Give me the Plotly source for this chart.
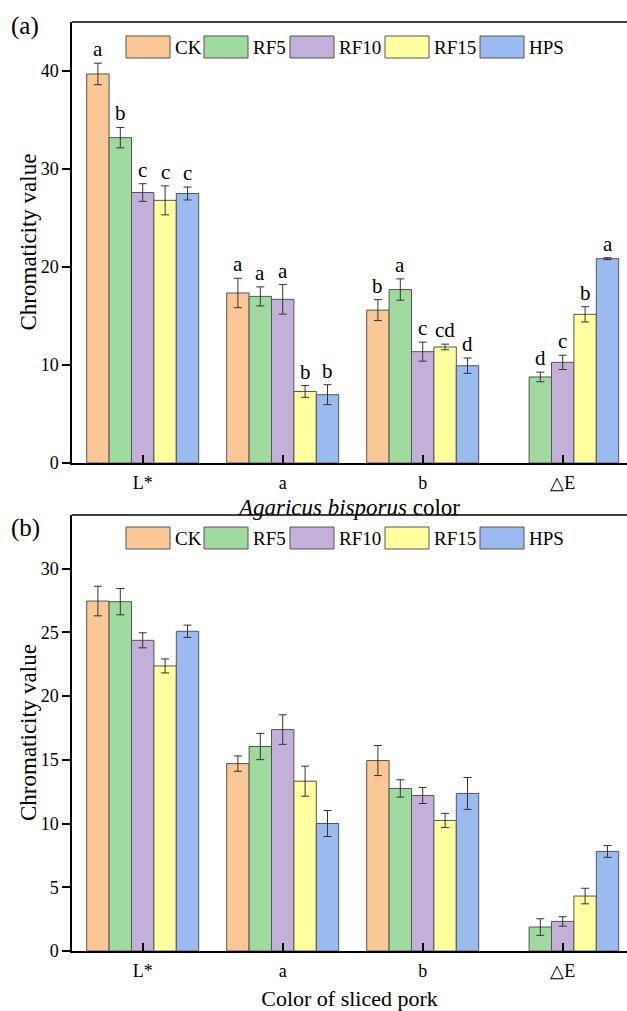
import plotly.graph_objects as go

# ---------------- data ----------------
categories = ["L*", "a", "b", "△E"]
series = ["CK", "RF5", "RF10", "RF15", "HPS"]

# Panel (a): Agaricus bisporus colour
a_CK = [39.7, 17.35, 15.6, None]
a_RF5 = [33.2, 17.0, 17.7, 8.78]
a_RF10 = [27.6, 16.7, 11.36, 10.27]
a_RF15 = [26.8, 7.3, 11.84, 15.17]
a_HPS = [27.5, 6.97, 9.93, 20.85]

a_CK_err = [1.1, 1.5, 1.07, None]
a_RF5_err = [1.04, 0.97, 1.09, 0.49]
a_RF10_err = [0.9, 1.51, 0.97, 0.73]
a_RF15_err = [1.48, 0.6, 0.29, 0.78]
a_HPS_err = [0.66, 1.02, 0.78, 0.1]

a_CK_sig = ["a", "a", "b", ""]
a_RF5_sig = ["b", "a", "a", "d"]
a_RF10_sig = ["c", "a", "c", "c"]
a_RF15_sig = ["c", "b", "cd", "b"]
a_HPS_sig = ["c", "b", "d", "a"]

# Panel (b): sliced pork colour
b_CK = [27.45, 14.7, 14.94, None]
b_RF5 = [27.4, 16.04, 12.75, 1.88]
b_RF10 = [24.37, 17.37, 12.2, 2.32]
b_RF15 = [22.36, 13.32, 10.24, 4.31]
b_HPS = [25.08, 10.0, 12.36, 7.81]

b_CK_err = [1.16, 0.6, 1.18, None]
b_RF5_err = [1.03, 1.03, 0.68, 0.65]
b_RF10_err = [0.59, 1.16, 0.63, 0.37]
b_RF15_err = [0.55, 1.18, 0.56, 0.61]
b_HPS_err = [0.48, 1.02, 1.25, 0.46]

a_yticks = [0, 10, 20, 30, 40]
b_yticks = [0, 5, 10, 15, 20, 25, 30]

# ---------------- styles ----------------
colors = ["#FAC896", "#A0DAA0", "#C2B0D8", "#FFFFA0", "#9BBBF0"]
FONT = "Liberation Serif, Times New Roman, serif"
W, H = 627, 1011
ML, MR, MT, MB = 72, 0, 22, 60

panel_a_vals = [a_CK, a_RF5, a_RF10, a_RF15, a_HPS]
panel_a_errs = [a_CK_err, a_RF5_err, a_RF10_err, a_RF15_err, a_HPS_err]
panel_a_sigs = [a_CK_sig, a_RF5_sig, a_RF10_sig, a_RF15_sig, a_HPS_sig]
panel_b_vals = [b_CK, b_RF5, b_RF10, b_RF15, b_HPS]
panel_b_errs = [b_CK_err, b_RF5_err, b_RF10_err, b_RF15_err, b_HPS_err]

fig = go.Figure()

for axis_suffix, vals_list, errs_list in [("", panel_a_vals, panel_a_errs),
                                          ("2", panel_b_vals, panel_b_errs)]:
    for i, name in enumerate(series):
        fig.add_trace(go.Bar(
            x=categories, y=vals_list[i], name=name,
            xaxis="x" + axis_suffix, yaxis="y" + axis_suffix,
            offsetgroup=str(i),
            marker=dict(color=colors[i], line=dict(color="#555555", width=1)),
            error_y=dict(type="data", array=errs_list[i], visible=True,
                         color="#333333", thickness=1, width=4),
            showlegend=False,
        ))

# significance letters above error bars (panel a)
n = len(series)
group_w = 0.8
bar_w = group_w / n
annotations = []
for i in range(n):
    for j, cat in enumerate(categories):
        v = panel_a_vals[i][j]
        if v is None or not panel_a_sigs[i][j]:
            continue
        e = panel_a_errs[i][j] or 0
        annotations.append(dict(
            x=j + (i - (n - 1) / 2) * bar_w, y=v + e, xref="x", yref="y",
            text=panel_a_sigs[i][j], showarrow=False, yanchor="bottom", xanchor="center",
            yshift=0, font=dict(family=FONT, size=21, color="black")))

# plot-area geometry in pixels
plot_h = H - MT - MB
a_top_px, a_bot_px = 22, 463
b_top_px, b_bot_px = 515, 951


def py(p):
    return (H - MB - p) / plot_h


def px(p):
    return (p - ML) / (W - ML - MR)


# panel labels
for label, cy in (("(a)", 26), ("(b)", 528)):
    annotations.append(dict(x=px(25), y=py(cy), xref="paper", yref="paper", text=label,
                            showarrow=False, xanchor="center", yanchor="middle",
                            font=dict(family=FONT, size=25, color="black")))

# y-axis titles
for top, bot in ((a_top_px, a_bot_px), (b_top_px, b_bot_px)):
    annotations.append(dict(x=px(28), y=py((top + bot) / 2), xref="paper", yref="paper",
                            text="Chromaticity value", textangle=-90, showarrow=False,
                            xanchor="center", yanchor="middle",
                            font=dict(family=FONT, size=23, color="black")))

shapes = []
# top frame lines
for top in (a_top_px, b_top_px):
    shapes.append(dict(type="line", xref="paper", yref="paper", x0=0, x1=1,
                       y0=py(top), y1=py(top), line=dict(color="black", width=1.5)))

# custom legends (Origin-style wide swatches)
legend_x = [126, 204, 290, 385, 480]
for top_px in (36, 527):
    for i, name in enumerate(series):
        x0 = legend_x[i]
        shapes.append(dict(type="rect", xref="paper", yref="paper",
                           x0=px(x0), x1=px(x0 + 44), y0=py(top_px + 22), y1=py(top_px),
                           fillcolor=colors[i], line=dict(color="#555555", width=1)))
        annotations.append(dict(x=px(x0 + 47), y=py(top_px + 11), xref="paper", yref="paper",
                                text=name, showarrow=False, xanchor="left", yanchor="middle",
                                font=dict(family=FONT, size=19, color="black")))

xrange = [-0.505, -0.505 + (W - ML - MR) / 140.0]
axis_common = dict(showline=True, linecolor="black", linewidth=1.5, mirror=False,
                   showgrid=False, zeroline=False)
xcommon = dict(axis_common, type="category", range=xrange, ticks="inside", ticklen=8,
               tickwidth=1.5, tickcolor="black",
               tickfont=dict(family=FONT, size=18, color="black"), ticklabelstandoff=3)
ycommon = dict(axis_common, ticks="outside", ticklen=8, tickwidth=1.5, tickcolor="black",
               tickfont=dict(family=FONT, size=18, color="black"))

fig.update_layout(
    width=W, height=H,
    margin=dict(l=ML, r=MR, t=MT, b=MB),
    paper_bgcolor="white", plot_bgcolor="white",
    barmode="group", bargap=0.2, bargroupgap=0,
    font=dict(family=FONT, color="black"),
    xaxis=dict(xcommon, anchor="y",
               title=dict(text="<i>Agaricus bisporus</i> color", standoff=7,
                          font=dict(family=FONT, size=23, color="black"))),
    yaxis=dict(ycommon, domain=[py(a_bot_px), py(a_top_px)], range=[0, 45],
               tickvals=a_yticks, anchor="x"),
    xaxis2=dict(xcommon, anchor="y2",
                title=dict(text="Color of sliced pork", standoff=10,
                           font=dict(family=FONT, size=22, color="black"))),
    yaxis2=dict(ycommon, domain=[py(b_bot_px), py(b_top_px)], range=[0, 34.2],
                tickvals=b_yticks, anchor="x2"),
    annotations=annotations,
    shapes=shapes,
)

fig.write_html("out.html", config={"displayModeBar": False},
               post_script="document.body.style.margin='0';document.body.style.padding='0';")
